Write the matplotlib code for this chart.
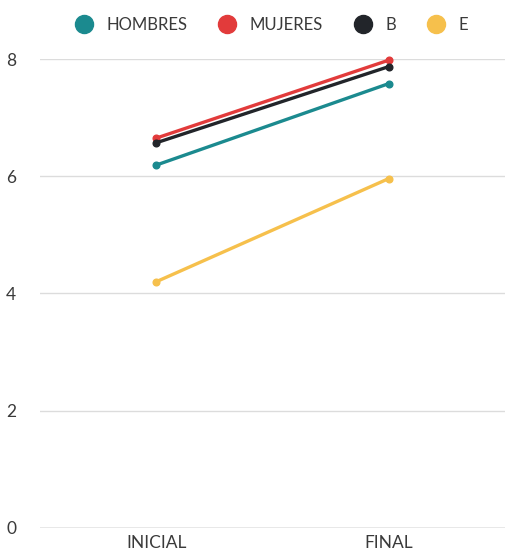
import matplotlib

matplotlib.use("Agg")
import matplotlib.pyplot as plt
from matplotlib.lines import Line2D

# ─── Data ────────────────────────────────────────────────────────────────────

categories = ["INICIAL", "FINAL"]
series_names = ["HOMBRES", "MUJERES", "B", "E"]
hombres = [6.19, 7.58]
mujeres = [6.65, 7.98]
b_vals = [6.57, 7.87]
e_vals = [4.20, 5.96]
y_ticks = [0, 2, 4, 6, 8]

# ─── Style ───────────────────────────────────────────────────────────────────

COLORS = ["#1b8a8f", "#e23b3b", "#22252a", "#f6c04c"]
TEXT_COLOR = "#3a3a3a"
GRID_COLOR = "#dcdcdc"
AXIS_COLOR = "#8a8a8a"

plt.rcParams["font.family"] = ["Lato", "DejaVu Sans"]

fig = plt.figure(figsize=(5.05, 5.54), dpi=100, facecolor="white")
ax = fig.add_axes([0.079, 0.047, 0.921, 0.8465])

x = list(range(len(categories)))
for vals, color in zip([hombres, mujeres, b_vals, e_vals], COLORS):
    ax.plot(x, vals, color=color, linewidth=2.4, marker="o", markersize=4.8,
            clip_on=False, solid_capstyle="round", zorder=3)

ax.set_xlim(-0.5, 1.5)
ax.set_ylim(0, 8)
ax.set_yticks(y_ticks)
ax.set_yticklabels([str(v) for v in y_ticks])
ax.set_xticks(x)
ax.set_xticklabels(categories)

for t in y_ticks[1:]:
    ax.axhline(t, color=GRID_COLOR, linewidth=1.0, zorder=1)
ax.axhline(0, color=AXIS_COLOR, linewidth=1.0, zorder=1)

for spine in ax.spines.values():
    spine.set_visible(False)
ax.tick_params(axis="both", length=0, colors=TEXT_COLOR, labelsize=12.5)
ax.tick_params(axis="y", pad=17)
ax.tick_params(axis="x", pad=5)

handles = [
    Line2D([], [], linestyle="none", marker="o", markersize=13,
           markerfacecolor=c, markeredgecolor=c)
    for c in COLORS
]
fig.legend(handles, series_names, loc="center", bbox_to_anchor=(0.53, 0.955),
           ncol=4, frameon=False, fontsize=12, handletextpad=0.35,
           columnspacing=1.4, labelcolor=TEXT_COLOR)

fig.savefig("out.png", dpi=100, facecolor="white")
